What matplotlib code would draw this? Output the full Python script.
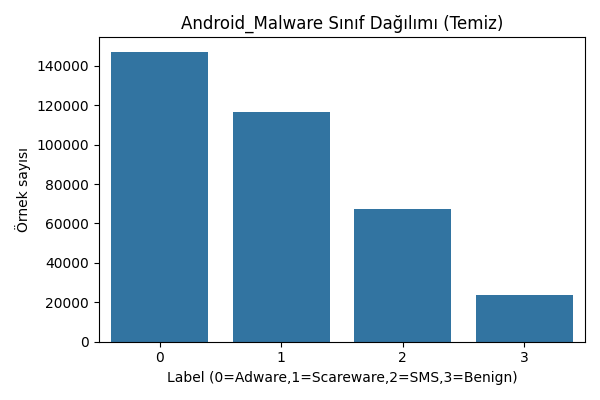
import matplotlib
matplotlib.use("Agg")
import matplotlib.pyplot as plt
import seaborn as sns
import pandas as pd

labels = [0, 1, 2, 3]
counts = [147100, 116800, 67400, 23800]

df = pd.DataFrame({"Label": labels, "count": counts})
fig, ax = plt.subplots(figsize=(6, 4), dpi=100)
sns.barplot(data=df, x="Label", y="count", color="#1f77b4", ax=ax)
ax.set_title("Android_Malware Sınıf Dağılımı (Temiz)")
ax.set_xlabel("Label (0=Adware,1=Scareware,2=SMS,3=Benign)")
ax.set_ylabel("Örnek sayısı")
plt.tight_layout()
plt.savefig("out.png")
